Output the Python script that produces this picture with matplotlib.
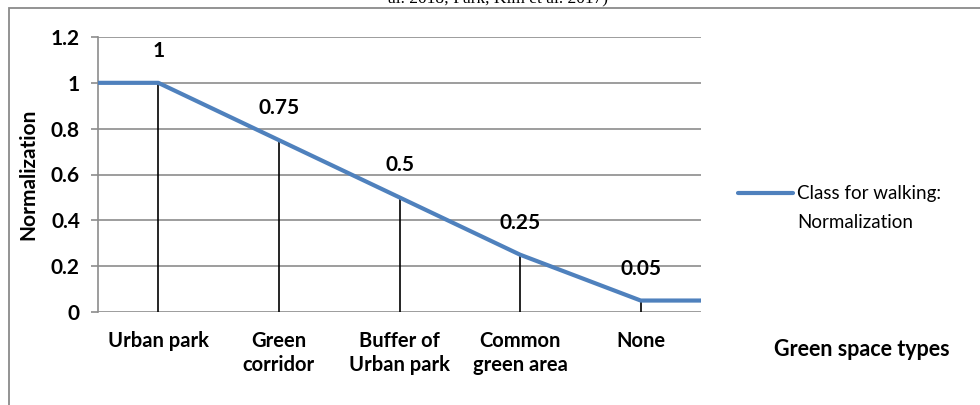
import matplotlib
matplotlib.use("Agg")
import matplotlib.pyplot as plt
from matplotlib.lines import Line2D
from matplotlib.patches import Rectangle

# Data
categories = ["Urban park", "Green\ncorridor", "Buffer of\nUrban park", "Common\ngreen area", "None"]
values = [1, 0.75, 0.5, 0.25, 0.05]
value_labels = ["1", "0.75", "0.5", "0.25", "0.05"]
y_ticks = [0, 0.2, 0.4, 0.6, 0.8, 1.0, 1.2]
y_tick_labels = ["0", "0.2", "0.4", "0.6", "0.8", "1", "1.2"]
series_name = "Class for walking:\nNormalization"

FONT = ["Lato", "DejaVu Sans"]
BLUE = "#4F81BD"
GRID = "#8C8C8C"

W, H = 980, 405
fig = plt.figure(figsize=(W / 100, H / 100), dpi=100)

def fx(px):
    return px / W

def fy(py):
    return 1 - py / H

# Chart frame
fig.patches.append(Rectangle((fx(9), fy(420)), fx(1000) - fx(9), fy(8) - fy(420),
                             transform=fig.transFigure, fill=False,
                             edgecolor="#8A8A8A", linewidth=1.3, zorder=0))

# Caption text above the chart (cut off at the top edge)
fig.text(0.508, fy(-2), "al. 2018; Park, Kim et al. 2017)", ha="center", va="center",
         fontsize=12.5, family=["Liberation Serif", "DejaVu Serif"])

# Plot area
left, right, top, bottom = 98, 701, 37, 312
ax = fig.add_axes([fx(left), fy(bottom), fx(right) - fx(left), fy(top) - fy(bottom)])

n = len(values)
xs = [i + 0.5 for i in range(n)]

ax.set_xlim(0, n)
ax.set_ylim(0, 1.2)

# Gridlines
for t in y_ticks:
    ax.axhline(t, color=GRID, linewidth=1.2, zorder=1)

# Drop lines from each point to the axis
for x, v in zip(xs, values):
    ax.plot([x, x], [0, v], color="black", linewidth=1.2, zorder=2)

# Series line, carried flat to both edges of the plot area
line_x = [0] + xs + [n]
line_y = [values[0]] + values + [values[-1]]
ax.plot(line_x, line_y, color=BLUE, linewidth=3.0, solid_capstyle="butt",
        solid_joinstyle="round", zorder=3, clip_on=False)

# Value labels
for x, v, lab in zip(xs, values, value_labels):
    ax.annotate(lab, (x, v), xytext=(0, 23), textcoords="offset points",
                ha="center", va="center", fontsize=15, fontweight="bold",
                family=FONT, zorder=4)

# Axes styling
for side in ["top", "right", "bottom"]:
    ax.spines[side].set_visible(False)
ax.spines["left"].set_color(GRID)
ax.spines["left"].set_linewidth(1.2)
ax.set_yticks(y_ticks)
ax.set_yticklabels(y_tick_labels, fontsize=15, fontweight="bold", family=FONT)
ax.tick_params(axis="y", length=5, width=1.2, color=GRID, pad=8)
ax.set_xticks(xs)
ax.set_xticklabels(categories, fontsize=14.5, fontweight="bold", family=FONT,
                   linespacing=1.25, va="top")
ax.tick_params(axis="x", length=0, pad=14)
ax.set_facecolor("none")

ax.set_ylabel("Normalization", fontsize=15, fontweight="bold", family=FONT)
ax.yaxis.set_label_coords((38 - left) / (right - left), 0.5)

# Legend entry
fig.lines.append(Line2D([fx(738), fx(793)], [fy(193), fy(193)], transform=fig.transFigure,
                        color=BLUE, linewidth=3.0, solid_capstyle="round"))
fig.text(fx(797), fy(193), "Class for walking:", ha="left", va="center",
         fontsize=13.5, family=FONT)
fig.text(fx(797), fy(223), "Normalization", ha="left", va="center",
         fontsize=13.5, family=FONT)

# Category axis title
fig.text(fx(862), fy(349), "Green space types", ha="center", va="center",
         fontsize=15.5, fontweight="bold", family=FONT)

fig.savefig("out.png", dpi=100, facecolor="white")
